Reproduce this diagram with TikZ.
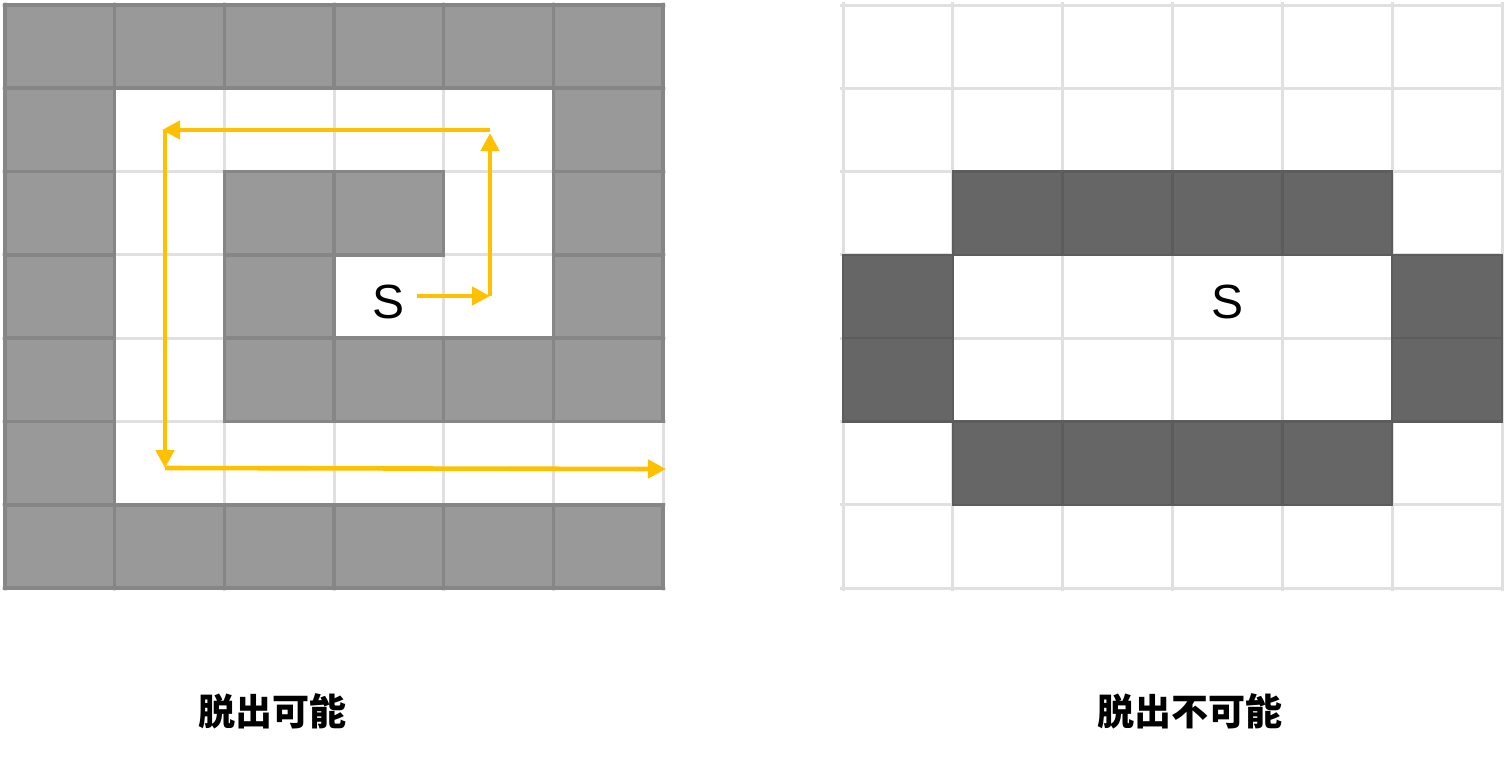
\documentclass[tikz,border=0pt]{standalone}
\usepackage{fontspec}
\setmainfont{Liberation Sans}
\newfontfamily\cjk{Noto Sans CJK JP}
\usetikzlibrary{arrows.meta}
\definecolor{gridlight}{HTML}{E0E0E0}
\definecolor{wallfill}{HTML}{999999}
\definecolor{walledge}{HTML}{868686}
\definecolor{darkfill}{HTML}{666666}
\definecolor{darkedge}{HTML}{5C5C5C}
\definecolor{pathyellow}{HTML}{FFC000}
\begin{document}
\begin{tikzpicture}[x=0.5pt,y=-0.5pt,
  gridline/.style={draw=gridlight,line width=1.5pt},
  wallcell/.style={fill=wallfill,draw=walledge,line width=1.8pt},
  darkcell/.style={fill=darkfill,draw=darkedge,line width=1.2pt},
  route/.style={draw=pathyellow,line width=2.3pt,-{Triangle[length=9pt,width=9pt]}},
  startlabel/.style={font=\fontsize{24pt}{26pt}\selectfont,inner sep=0pt},
  caption/.style={font=\cjk\bfseries\fontsize{18.5pt}{20pt}\selectfont,inner sep=0pt}]
\useasboundingbox (0,0) rectangle (1504,757);
% ---------- left maze ----------
\def\cw{109.67}\def\rh{83.29}
\foreach \i in {0,...,6} \draw[gridline] ({5+\i*\cw},2) -- ({5+\i*\cw},591);
\foreach \j in {0,...,7} \draw[gridline] (2,{5+\j*\rh}) -- (666,{5+\j*\rh});
\foreach \c/\r in {0/0,1/0,2/0,3/0,4/0,5/0,
                   0/1,5/1,
                   0/2,2/2,3/2,5/2,
                   0/3,2/3,5/3,
                   0/4,2/4,3/4,4/4,5/4,
                   0/5,
                   0/6,1/6,2/6,3/6,4/6,5/6}
  \draw[wallcell] ({5+\c*\cw},{5+\r*\rh}) rectangle ++(\cw,\rh);
\node[startlabel] (sL) at (389,302) {S};
\coordinate (p0) at (417,296);
\coordinate (p1) at (490,296);
\coordinate (p2) at (490,133);
\coordinate (p2b) at (490,130);
\coordinate (p3) at (162,130);
\coordinate (p3b) at (165,130);
\coordinate (p4) at (165,468);
\coordinate (p5) at (666,469);
\draw[route] (p0) -- (p1);
\draw[route] (p1) -- (p2);
\draw[route] (p2b) -- (p3);
\draw[route] (p3b) -- (p4);
\draw[route] (p4) -- (p5);
% ---------- right maze ----------
\def\cwr{109.83}
\foreach \i in {0,...,6} \draw[gridline] ({843+\i*\cwr},2) -- ({843+\i*\cwr},591);
\foreach \j in {0,...,7} \draw[gridline] (840,{5+\j*\rh}) -- (1504,{5+\j*\rh});
\foreach \c/\r in {1/2,2/2,3/2,4/2,
                   0/3,5/3,
                   0/4,5/4,
                   1/5,2/5,3/5,4/5}
  \draw[darkcell] ({843+\c*\cwr},{5+\r*\rh}) rectangle ++(\cwr,\rh);
\node[startlabel] (sR) at (1227,302) {S};
% ---------- captions ----------
\node[caption] (labL) at (272,711) {脱出可能};
\node[caption] (labR) at (1190,711) {脱出不可能};
\end{tikzpicture}
\end{document}
